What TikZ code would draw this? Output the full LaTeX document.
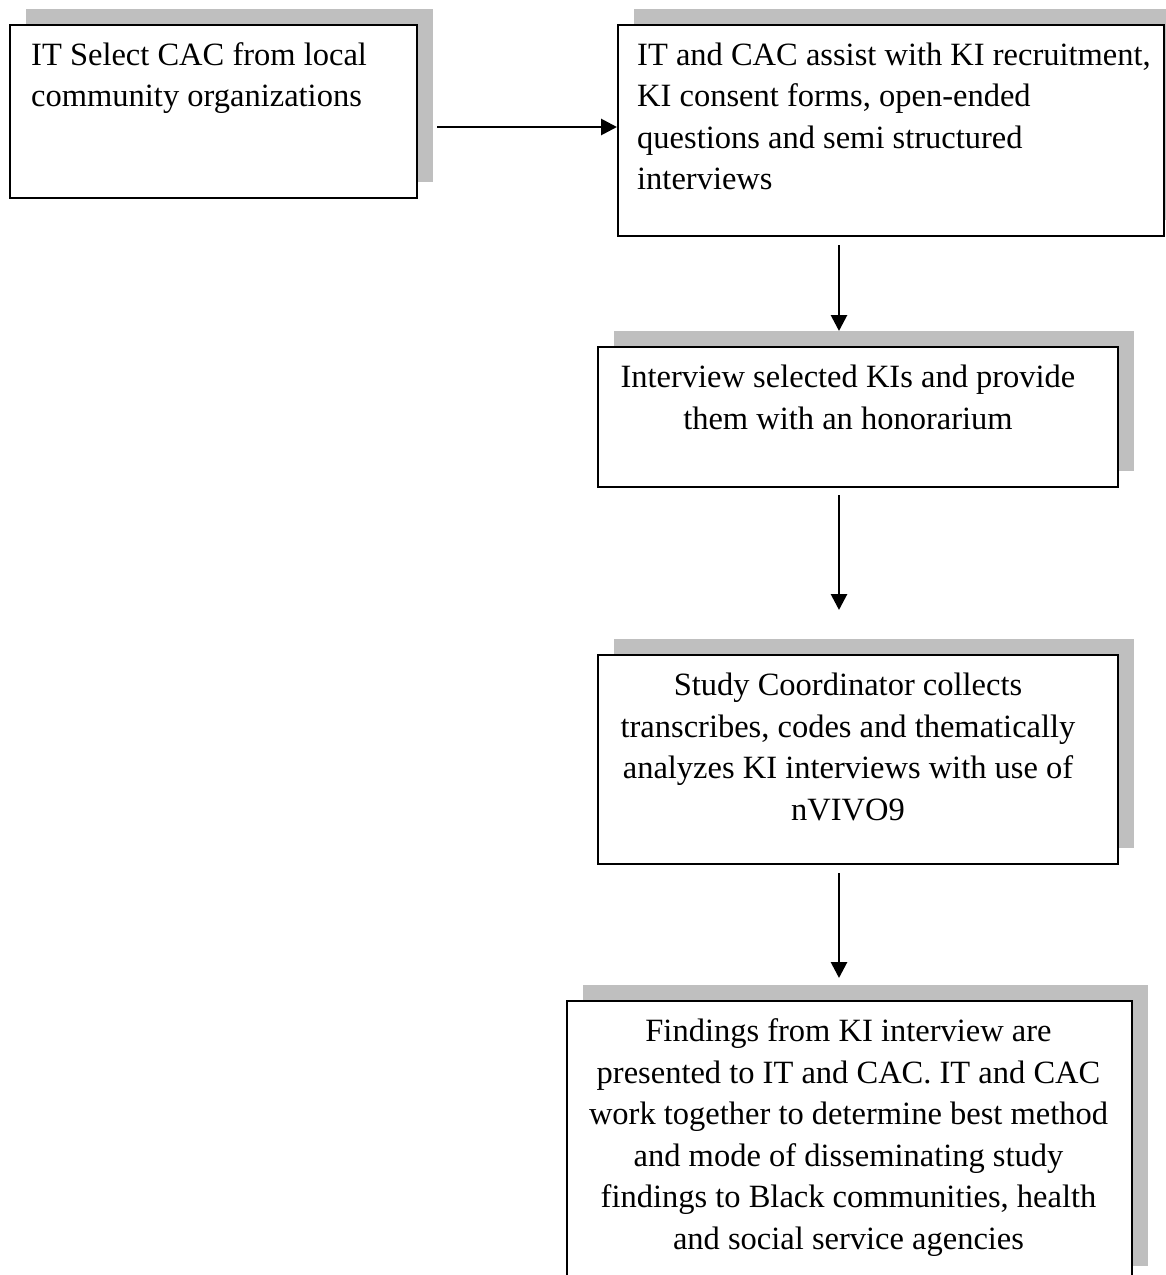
\documentclass[tikz,border=0pt]{standalone}
\usepackage{fontspec}
\setmainfont{Liberation Serif}
\usetikzlibrary{arrows.meta,shadows}
\definecolor{shadowgray}{RGB}{191,191,191}
\begin{document}
\begin{tikzpicture}[x=1pt,y=-1pt,
  box/.style={draw=black, line width=2.4pt, fill=white, inner sep=0pt, anchor=north west,
    drop shadow={shadow xshift=16pt, shadow yshift=16pt, fill=shadowgray, opacity=1}},
  txt/.style={inner sep=0pt, font=\fontsize{32.5pt}{41.5pt}\selectfont},
  arr/.style={line width=2.8pt, -{Triangle[length=16pt,width=16pt]}}]
\useasboundingbox (0,0) rectangle (1166,1275);
\clip (0,0) rectangle (1166,1275);
% boxes
\node[box, minimum width=407pt, minimum height=173pt] (b1) at (9,24) {};
\node[box, minimum width=546pt, minimum height=211pt] (b2) at (617,24) {};
\node[box, minimum width=520pt, minimum height=140pt] (b3) at (597,346) {};
\node[box, minimum width=520pt, minimum height=209pt] (b4) at (597,654) {};
\node[box, minimum width=565pt, minimum height=281pt] (b5) at (566,1000) {};
% texts
\node[txt, anchor=base west] (t1) at ([xshift=22pt,yshift=-41pt]b1.north west)
  {\parbox[t]{390pt}{\raggedright IT Select CAC from local\\community organizations}};
\node[txt, anchor=base west] (t2) at ([xshift=20pt,yshift=-41pt]b2.north west)
  {\parbox[t]{530pt}{\raggedright IT and CAC assist with KI recruitment,\\KI consent forms, open-ended\\questions and semi structured\\interviews}};
\node[txt, anchor=base] (t3) at (848,387.5)
  {\parbox[t]{560pt}{\centering Interview selected KIs and provide\\them with an honorarium}};
\node[txt, anchor=base] (t4) at (848,695.5)
  {\parbox[t]{560pt}{\centering Study Coordinator collects\\transcribes, codes and thematically\\analyzes KI interviews with use of\\nVIVO9}};
\node[txt, anchor=base] (t5) at (848.5,1041.5)
  {\parbox[t]{600pt}{\centering Findings from KI interview are\\presented to IT and CAC. IT and CAC\\work together to determine best method\\and mode of disseminating study\\findings to Black communities, health\\and social service agencies}};
% connectors
\coordinate (a1s) at (437,127);
\draw[arr] (a1s) -- (a1s -| b2.west);
\coordinate (a2s) at (839,245);
\coordinate (a2e) at (839,331);
\draw[arr] (a2s) -- (a2e);
\coordinate (a3s) at (839,495);
\coordinate (a3e) at (839,610);
\draw[arr] (a3s) -- (a3e);
\coordinate (a4s) at (839,873);
\coordinate (a4e) at (839,978);
\draw[arr] (a4s) -- (a4e);
\end{tikzpicture}
\end{document}
